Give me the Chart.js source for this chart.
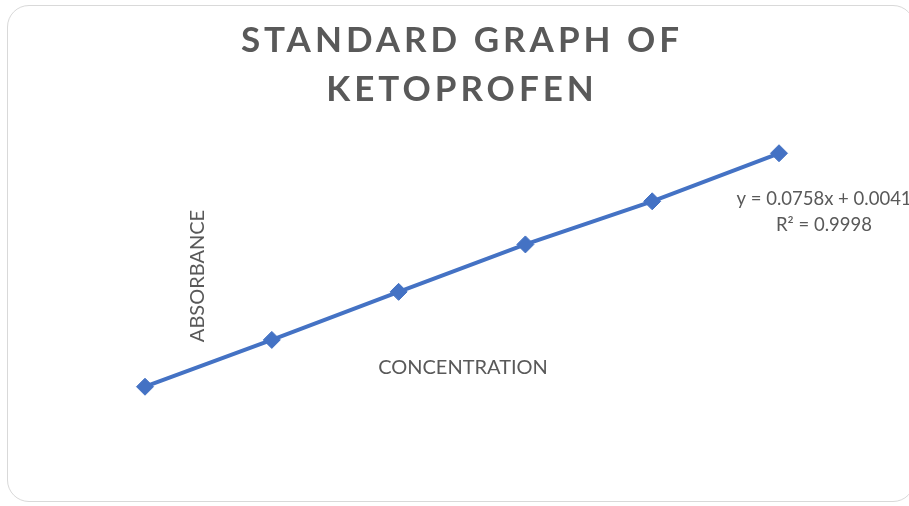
<!DOCTYPE html>
<html>
<head>
<meta charset="utf-8">
<script src="https://cdn.jsdelivr.net/npm/chart.js@4.4.1/dist/chart.umd.min.js"></script>
<style>
  html, body { margin: 0; padding: 0; background: #fff; }
  #wrap { position: relative; width: 909px; height: 506px; overflow: hidden; }
  #frame {
    position: absolute; left: 7px; top: 5px; width: 908px; height: 497px;
    border: 1.5px solid #d9d9d9; border-radius: 22px; box-sizing: border-box;
  }
  #chart { position: absolute; left: 0; top: 0; }
</style>
</head>
<body>
<div id="wrap">
  <div id="frame"></div>
  <canvas id="chart" width="909" height="506"></canvas>
</div>
<script>
// Standard graph of ketoprofen, line chart with linear trendline label

const categories = ["1", "2", "3", "4", "5", "6"];
const absorbance = [0.080, 0.156, 0.234, 0.311, 0.381, 0.459];
const titleLines = ["STANDARD GRAPH OF", "KETOPROFEN"];
const trendLines = ["y = 0.0758x + 0.0041", "R\u00b2 = 0.9998"];

const textColor = "#595959";
const lineColor = "#4472C4";

// Excel put the axis titles and the trendline label inside the plot, draw them by hand
const labelsPlugin = {
  id: "insideLabels",
  afterDatasetsDraw(chart) {
    let ctx = chart.ctx;
    ctx.save();
    ctx.fillStyle = textColor;
    ctx.textAlign = "center";
    ctx.textBaseline = "middle";

    // x axis title
    ctx.font = "20px Lato";
    ctx.fillText("CONCENTRATION", 463, 368);

    // y axis title, rotated
    ctx.save();
    ctx.translate(198, 276);
    ctx.rotate(-Math.PI / 2);
    ctx.fillText("ABSORBANCE", 0, 0);
    ctx.restore();

    // trendline equation
    ctx.font = "18.5px Lato";
    ctx.fillText(trendLines[0], 824, 199);
    ctx.fillText(trendLines[1], 824, 225);
    ctx.restore();
  },
};

// letter spacing for the title only
const spacingPlugin = {
  id: "titleSpacing",
  beforeDraw(chart) {
    chart.ctx.letterSpacing = "4px";
  },
  beforeDatasetsDraw(chart) {
    chart.ctx.letterSpacing = "0px";
  },
};

new Chart(document.getElementById("chart").getContext("2d"), {
  type: "line",
  data: {
    labels: categories,
    datasets: [
      {
        data: absorbance,
        borderColor: lineColor,
        backgroundColor: lineColor,
        borderWidth: 4,
        pointStyle: "rectRot",
        pointRadius: 8.5,
        pointHoverRadius: 8.5,
        pointBorderWidth: 1,
        tension: 0,
        clip: false,
      },
    ],
  },
  options: {
    responsive: false,
    animation: false,
    events: [],
    layout: {
      padding: { left: 145, right: 130, bottom: 70, top: 0 },
    },
    scales: {
      x: { type: "category", display: false, offset: false },
      y: { display: false, min: 0, max: 0.5 },
    },
    plugins: {
      legend: { display: false },
      tooltip: { enabled: false },
      title: {
        display: true,
        text: titleLines,
        color: textColor,
        font: { family: "Lato", size: 35, weight: "bold", lineHeight: 1.4 },
        padding: { top: 16, bottom: 14 },
      },
    },
  },
  plugins: [spacingPlugin, labelsPlugin],
});
</script>
</body>
</html>
